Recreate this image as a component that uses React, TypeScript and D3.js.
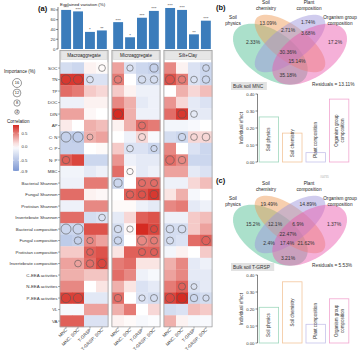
import React from 'react';
import * as d3 from 'd3';

// ---------- data ----------
const fractions = ['Macroaggregate', 'Microaggregate', 'Silt+Clay'];
const responses = ['MNC', 'MNC: SOC', 'T-GRSP', 'T-GRSP: SOC'];
const factors = ['SOC', 'TN', 'TP', 'DOC', 'DIN', 'AP', 'C: N', 'C: P', 'N: P', 'MBC',
  'Bacterial Shannon', 'Fungal Shannon', 'Protistan Shannon', 'Invertebrate Shannon',
  'Bacterial composition', 'Fungal composition', 'Protistan composition', 'Invertebrate composition',
  'C-EEA activities', 'N-EEA activities', 'P-EEA activities', 'VL', 'VA'];

const explained = [[80, 77, 35, 38], [55, 24, 64, 78], [84, 80, 30, 58]];
const signif = [['***', '***', '*', '**'], ['***', '*', '***', '***'], ['***', '***', '**', '***']];

const macroCorr = [
  [-0.3, -0.35, 0.05, 0.02], [0.75, 0.75, -0.25, -0.25], [0.55, 0.5, 0.2, 0.15], [-0.12, -0.12, 0.05, 0.05],
  [0.35, 0.35, 0.03, 0], [0.08, 0, 0.3, 0.25], [-0.4, -0.45, 0.3, 0.35], [-0.4, -0.4, 0, 0.02],
  [0.6, 0.7, -0.35, -0.35], [-0.1, -0.1, -0.18, -0.12], [-0.12, -0.12, 0.5, 0.5], [0.55, 0.55, 0.05, 0.03],
  [-0.12, -0.12, 0.45, 0.45], [0.55, 0.55, -0.3, -0.25], [-0.35, -0.35, 0.65, 0.65], [-0.45, -0.4, 0.45, 0.35],
  [0.2, 0.2, 0.6, 0.65], [0.35, 0.35, 0.55, 0.7], [0.3, 0.3, 0.22, 0.22], [0.45, 0.45, 0, 0.1],
  [0.72, 0.72, -0.2, -0.2], [-0.06, -0.06, 0.35, 0.35], [0.6, 0.6, -0.25, -0.25]];
const microCorr = [
  [0.35, -0.25, -0.35, -0.4], [0.5, 0, -0.3, -0.3], [0.2, 0.05, -0.12, -0.12], [0.45, 0.3, -0.18, -0.12],
  [0.8, 0.3, -0.12, -0.12], [0.05, 0.3, 0.55, 0.5], [0, -0.12, 0.15, -0.05], [0.2, -0.25, -0.25, -0.35],
  [0.4, -0.12, -0.18, -0.18], [0.55, 0.02, -0.18, -0.12], [-0.35, 0, 0.55, 0.55], [0, 0.6, 0.65, 0.75],
  [0.02, 0.02, -0.12, -0.18], [-0.18, 0.15, 0.6, 0.65], [-0.3, 0.03, 0.8, 0.7], [-0.35, 0, 0.45, 0.5],
  [0.1, 0.6, 0.6, 0.6], [0.5, 0.55, 0.1, 0.1], [0.55, 0.45, -0.12, -0.06], [0.3, 0.1, -0.25, -0.18],
  [0.55, 0, -0.25, -0.3], [0.3, 0.5, 0, 0.15], [0.05, 0.02, -0.06, -0.03]];
const siltCorr = [
  [0.45, 0.05, -0.25, -0.35], [0.65, 0.5, -0.25, -0.35], [0, 0.3, 0.15, 0.25], [0.4, 0.15, -0.18, -0.25],
  [0.55, 0.75, -0.18, -0.18], [-0.08, -0.08, -0.05, 0], [-0.3, -0.35, 0.15, 0.15], [0.45, 0, -0.25, -0.35],
  [0.55, 0.45, -0.35, -0.35], [0.35, 0.35, -0.18, -0.25], [-0.12, -0.12, 0.15, 0.25], [0.1, 0.3, -0.06, 0],
  [0.45, 0.5, -0.18, -0.12], [-0.12, -0.12, 0.2, 0.25], [-0.3, -0.3, 0.2, 0.35], [-0.3, -0.25, 0.55, 0.6],
  [-0.08, 0.05, 0, 0.2], [0.3, 0.45, -0.18, -0.12], [0.35, 0.45, -0.18, -0.18], [0.5, 0.6, -0.25, -0.18],
  [0.7, 0.8, -0.35, -0.3], [-0.3, -0.25, 0.25, 0.2], [0.3, 0.05, -0.06, -0.05]];

const macroImp: [string, string, number][] = [
  ['SOC', 'T-GRSP: SOC', 9], ['TN', 'MNC', 17], ['TN', 'MNC: SOC', 17], ['TN', 'T-GRSP', 9],
  ['C: N', 'MNC', 20], ['C: N', 'MNC: SOC', 20], ['C: N', 'T-GRSP', 7], ['N: P', 'MNC', 11],
  ['Invertebrate Shannon', 'T-GRSP: SOC', 9], ['Bacterial composition', 'MNC', 20], ['Bacterial composition', 'MNC: SOC', 20],
  ['Fungal composition', 'MNC: SOC', 11], ['Fungal composition', 'T-GRSP', 8], ['Protistan composition', 'T-GRSP', 9],
  ['Invertebrate composition', 'MNC: SOC', 9], ['Invertebrate composition', 'T-GRSP', 11], ['Invertebrate composition', 'T-GRSP: SOC', 14],
  ['P-EEA activities', 'MNC', 17], ['P-EEA activities', 'MNC: SOC', 17]];
const microImp: [string, string, number][] = [
  ['SOC', 'MNC: SOC', 8], ['SOC', 'T-GRSP: SOC', 13], ['TN', 'MNC', 11], ['TN', 'T-GRSP', 11], ['TN', 'T-GRSP: SOC', 11],
  ['DIN', 'MNC', 16], ['AP', 'T-GRSP', 10], ['C: N', 'T-GRSP', 10], ['C: P', 'MNC: SOC', 9], ['C: P', 'T-GRSP: SOC', 8],
  ['MBC', 'MNC: SOC', 8], ['Bacterial Shannon', 'MNC', 13], ['Bacterial Shannon', 'T-GRSP', 10], ['Bacterial Shannon', 'T-GRSP: SOC', 10],
  ['Fungal Shannon', 'MNC: SOC', 11], ['Fungal Shannon', 'T-GRSP', 11], ['Fungal Shannon', 'T-GRSP: SOC', 13],
  ['Bacterial composition', 'MNC', 11], ['Bacterial composition', 'MNC: SOC', 8], ['Bacterial composition', 'T-GRSP: SOC', 10],
  ['Fungal composition', 'MNC', 11], ['Fungal composition', 'T-GRSP', 16], ['Fungal composition', 'T-GRSP: SOC', 10],
  ['Protistan composition', 'T-GRSP', 10], ['Protistan composition', 'T-GRSP: SOC', 10],
  ['P-EEA activities', 'MNC', 11], ['P-EEA activities', 'T-GRSP', 8], ['P-EEA activities', 'T-GRSP: SOC', 10]];
const siltImp: [string, string, number][] = [
  ['SOC', 'T-GRSP: SOC', 9], ['TN', 'MNC', 16], ['TN', 'MNC: SOC', 11], ['TN', 'T-GRSP', 9], ['TN', 'T-GRSP: SOC', 11],
  ['DIN', 'MNC: SOC', 13], ['DIN', 'T-GRSP', 9], ['C: N', 'MNC: SOC', 11], ['C: N', 'T-GRSP', 9], ['C: N', 'T-GRSP: SOC', 12],
  ['N: P', 'MNC', 14], ['N: P', 'MNC: SOC', 11], ['Bacterial composition', 'MNC', 12], ['Bacterial composition', 'MNC: SOC', 12],
  ['Fungal composition', 'MNC', 10], ['Fungal composition', 'T-GRSP: SOC', 14],
  ['N-EEA activities', 'MNC: SOC', 10], ['N-EEA activities', 'T-GRSP', 7],
  ['P-EEA activities', 'MNC', 16], ['P-EEA activities', 'MNC: SOC', 20], ['P-EEA activities', 'T-GRSP', 11], ['P-EEA activities', 'T-GRSP: SOC', 8]];

const importanceTicks = [16, 12, 8, 4];
const corrTicks = [0.5, 0.0, -0.5, -0.9];

const effectGroups = ['Soil physics', 'Soil chemistry', 'Plant composition', 'Organism group composition'];
const mncEffect = [0.265, 0.17, 0.055, 0.37];
const grspEffect = [0.21, 0.36, 0.11, 0.26];
const mncVenn = ['2.33%', '13.09%', '1.74%', '17.2%', '2.71%', '3.68%', '30.36%', '15.14%', '35.18%'];
const grspVenn = ['15.2%', '19.49%', '14.89%', '1.37%', '12.1%', '6.9%', '22.47%', '2.4%', '17.4%', '21.62%', '3.21%'];
const mncResidual = '13.11%';
const grspResidual = '5.53%';

// ---------- layout ----------
const FONT = 'Liberation Sans, Arial, sans-serif';
const mncAnchors = [[-37, -9], [-22, -28], [18, -29], [45, -9], [-2, -21], [18, -18], [-2, 1], [7, 10], [-2, 24]];
const grspAnchors = [[-37, -8], [-21, -28], [18, -28], [44, -8], [-15, -8], [8, -8], [-2, 2], [-21, 11], [-3, 11], [16, 11], [-2, 26]];
const setColors = ['#4fbf93', '#ee9a55', '#9d94dc', '#ea5aad'];
const barStroke = ['#9fd8bd', '#f3c69c', '#c6c2ea', '#f2a6d0'];
const vennShapes = [
  { cx: 0.35, cy: 0.47, a: 0.35, b: 0.2, th: 135 },
  { cx: 0.5, cy: 0.57, a: 0.35, b: 0.15, th: 135 },
  { cx: 0.5, cy: 0.57, a: 0.35, b: 0.15, th: 45 },
  { cx: 0.65, cy: 0.47, a: 0.35, b: 0.2, th: 45 }];
const setLabelPos = [[-57, -32], [-24, -47], [19, -47], [50, -32]];
const setLabelLines = [['Soil', 'physics'], ['Soil', 'chemistry'], ['Plant', 'composition'], ['Organism group', 'composition']];

const color = d3.scaleLinear<string>().domain([-0.9, 0, 0.8]).range(['#7d98d3', '#ffffff', '#d52b22']).clamp(true);
const rScale = d3.scaleSqrt().domain([0, 16]).range([0, 4.5]);

function Venn({ cy, labels, anchors, bulk, residual }: any) {
  const cx = 290;
  const sx = d3.scaleLinear().domain([0, 1]).range([cx - 65.5, cx + 65.5]);
  const sy = d3.scaleLinear().domain([0, 1]).range([cy + 53.5, cy - 53.5]);
  const line = d3.line<[number, number]>().x(d => sx(d[0])).y(d => sy(d[1])).curve(d3.curveLinearClosed);
  return (
    <g>
      {vennShapes.map((s, i) => {
        const th = (s.th * Math.PI) / 180;
        const pts = d3.range(72).map(k => {
          const t = (k / 72) * 2 * Math.PI;
          return [s.cx + s.a * Math.cos(t) * Math.cos(th) - s.b * Math.sin(t) * Math.sin(th),
            s.cy + s.a * Math.cos(t) * Math.sin(th) + s.b * Math.sin(t) * Math.cos(th)] as [number, number];
        });
        return <path key={i} d={line(pts) || ''} fill={setColors[i]} fillOpacity={0.48} stroke="none" />;
      })}
      {setLabelLines.map((ls, i) => (
        <text key={i} x={cx + setLabelPos[i][0]} y={cy + setLabelPos[i][1]} fontSize={4.7} textAnchor="middle" fill="#222">
          {ls.map((l, j) => <tspan key={j} x={cx + setLabelPos[i][0]} dy={j === 0 ? 0 : 6}>{l}</tspan>)}
        </text>
      ))}
      {labels.map((l: string, i: number) => (
        <text key={i} x={cx + anchors[i][0]} y={cy + anchors[i][1] + 1.8} fontSize={5} textAnchor="middle" fill="#333">{l}</text>
      ))}
      <rect x={231} y={cy + 31} width={bulk.length * 2.45 + 4} height={8} fill="#e2e2e2" />
      <text x={233} y={cy + 37} fontSize={4.8} fill="#333">{bulk}</text>
      <text x={312} y={cy + 35} fontSize={4.8} fill="#333">{`Residuals = ${residual}`}</text>
    </g>
  );
}

function EffectBars({ y0, values }: { y0: number; values: number[] }) {
  const x = d3.scaleBand().domain(effectGroups).range([258, 350]).paddingInner(0.17).paddingOuter(0.05);
  const y = d3.scaleLinear().domain([0, 0.4]).range([y0, y0 - 68]);
  const fs = 4.5;
  return (
    <g>
      <line x1={257.5} x2={257.5} y1={y(0)} y2={y(0.4)} stroke="#333" strokeWidth={0.6} />
      {y.ticks(4).map(t => (
        <g key={t}>
          <line x1={255.5} x2={257.5} y1={y(t)} y2={y(t)} stroke="#333" strokeWidth={0.6} />
          <text x={254.5} y={y(t) + 1.5} fontSize={4.3} textAnchor="end" fill="#333">{t.toFixed(2)}</text>
        </g>
      ))}
      <text transform={`translate(242.5,${y(0.2)}) rotate(-90)`} fontSize={4.6} textAnchor="middle" fill="#333">Individual effect</text>
      {effectGroups.map((g, i) => {
        const bx = x(g)!, bw = x.bandwidth();
        const lines = i === 3 ? ['Organism group', 'composition'] : [g];
        const len = d3.max(lines, l => l.length)! * fs * 0.5;
        const mid = (y(values[i]) + y(0)) / 2;
        const c = Math.min(mid, y(0) - len / 2 - 3);
        return (
          <g key={g}>
            <rect x={bx} y={y(values[i])} width={bw} height={y(0) - y(values[i])} fill="white" stroke={barStroke[i]} strokeWidth={0.8} />
            {lines.map((l, j) => (
              <text key={j} transform={`translate(${bx + bw / 2 + (lines.length === 2 ? (j - 0.5) * 5.6 : 0) + 1.6},${c}) rotate(-90)`}
                fontSize={fs} textAnchor="middle" fill="#333">{l}</text>
            ))}
          </g>
        );
      })}
    </g>
  );
}

export default function App() {
  const panelW = 48, gap = 4, heatLeft = 60;
  const heatTop = 62.3, rowH = 11.5;
  const heatBottom = heatTop + rowH * factors.length;
  const panelX = (i: number) => heatLeft + i * (panelW + gap);
  const rowY = d3.scaleBand().domain(factors).range([heatTop, heatBottom]);
  const colX = d3.scaleBand().domain(responses).range([0, panelW]);
  const barX = d3.scaleBand().domain(responses).range([0, panelW]).paddingInner(0.17).paddingOuter(0.1);
  const barY = d3.scaleLinear().domain([0, 86]).range([49, 7]);
  const legY = d3.scaleLinear().domain([-0.9, 0.8]).range([171, 125]);
  const corrs = [macroCorr, microCorr, siltCorr];
  const imps = [macroImp, microImp, siltImp];
  const gradStops = d3.range(0, 1.0001, 0.1).map(t => ({ t, c: color(legY.invert(125 + t * 46)) }));

  return (
    <svg width={359} height={354} style={{ position: 'absolute', left: 0, top: 0, background: 'white' }} fontFamily={FONT}>
      <defs>
        <linearGradient id="corrGrad" x1="0" y1="0" x2="0" y2="1">
          {gradStops.map(s => <stop key={s.t} offset={s.t} stopColor={s.c} />)}
        </linearGradient>
      </defs>
      {/* (a) */}
      <text x={38} y={11} fontSize={7.5} fontWeight="bold" fill="#111">(a)</text>
      <text x={60} y={5.5} fontSize={4.4} fill="#222">Explained variation (%)</text>
      <line x1={58} x2={58} y1={barY(0)} y2={barY(86)} stroke="#333" strokeWidth={0.6} />
      {[0, 20, 40, 60, 80].map(t => (
        <g key={t}>
          <line x1={56} x2={58} y1={barY(t)} y2={barY(t)} stroke="#333" strokeWidth={0.6} />
          <text x={55.3} y={barY(t) + 1.5} fontSize={4.3} textAnchor="end" fill="#333">{t}</text>
        </g>
      ))}
      {fractions.map((f, p) => (
        <g key={f} transform={`translate(${panelX(p)},0)`}>
          {responses.map((r, j) => (
            <g key={r}>
              <rect x={barX(r)} y={barY(explained[p][j])} width={barX.bandwidth()} height={barY(0) - barY(explained[p][j])} fill="#3b7cbb" />
              <text x={barX(r)! + barX.bandwidth() / 2} y={barY(explained[p][j]) - 0.6} fontSize={4.4} textAnchor="middle" fill="#333">{signif[p][j]}</text>
            </g>
          ))}
          <rect x={0} y={50.5} width={panelW} height={heatBottom - 50.5} fill="none" stroke="#a6a6a6" strokeWidth={0.7} />
          <rect x={1} y={51.5} width={panelW - 2} height={8} fill="#e6e6e6" stroke="#c9c9c9" strokeWidth={0.4} />
          <text x={panelW / 2} y={57.2} fontSize={4.6} textAnchor="middle" fill="#222">{f}</text>
          {factors.map((fac, i) => responses.map((r, j) => (
            <rect key={fac + r} x={colX(r)} y={rowY(fac)} width={colX.bandwidth() + 0.3} height={rowY.bandwidth() + 0.3} fill={color(corrs[p][i][j])} />
          )))}
          {imps[p].map(([fac, r, v]) => (
            <circle key={fac + r} cx={colX(r)! + colX.bandwidth() / 2} cy={rowY(fac)! + rowY.bandwidth() / 2} r={rScale(v)}
              fill="none" stroke="#555" strokeWidth={0.6} />
          ))}
          <rect x={0} y={50.5} width={panelW} height={heatBottom - 50.5} fill="none" stroke="#a6a6a6" strokeWidth={0.7} />
          {responses.map(r => {
            const cx = colX(r)! + colX.bandwidth() / 2;
            return (
              <g key={r}>
                <line x1={cx} x2={cx} y1={heatBottom} y2={heatBottom + 1.8} stroke="#555" strokeWidth={0.5} />
                <text transform={`translate(${cx + 1.5},${heatBottom + 3.5}) rotate(-45)`} fontSize={4.5} textAnchor="end" fill="#333">{r}</text>
              </g>
            );
          })}
        </g>
      ))}
      {factors.map(fac => (
        <g key={fac}>
          <line x1={58} x2={60} y1={rowY(fac)! + rowY.bandwidth() / 2} y2={rowY(fac)! + rowY.bandwidth() / 2} stroke="#555" strokeWidth={0.5} />
          <text x={57.5} y={rowY(fac)! + rowY.bandwidth() / 2 + 1.5} fontSize={4.4} textAnchor="end" fill="#333">{fac}</text>
        </g>
      ))}
      {/* legends */}
      <text x={4} y={73} fontSize={4.6} fill="#222">Importance (%)</text>
      {importanceTicks.map((v, i) => {
        const cy = [83, 93, 103, 112][i];
        return (
          <g key={v}>
            <circle cx={17} cy={cy} r={rScale(v)} fill="none" stroke="#555" strokeWidth={0.6} />
            <text x={17} y={cy + 1.4} fontSize={3.9} textAnchor="middle" fill="#222">{v}</text>
          </g>
        );
      })}
      <text x={7} y={123} fontSize={4.6} fill="#222">Correlation</text>
      <rect x={13} y={125} width={6} height={46} fill="url(#corrGrad)" />
      {corrTicks.map(t => (
        <g key={t}>
          <line x1={13} x2={14.3} y1={legY(t)} y2={legY(t)} stroke="white" strokeWidth={0.5} />
          <line x1={17.7} x2={19} y1={legY(t)} y2={legY(t)} stroke="white" strokeWidth={0.5} />
          <text x={27.5} y={legY(t) + 1.5} fontSize={4.3} textAnchor="end" fill="#333">{t.toFixed(1)}</text>
        </g>
      ))}
      {/* (b) */}
      <text x={216} y={10} fontSize={7.5} fontWeight="bold" fill="#111">(b)</text>
      <Venn cy={51} labels={mncVenn} anchors={mncAnchors} bulk="Bulk soil MNC" residual={mncResidual} />
      <EffectBars y0={162} values={mncEffect} />
      {/* (c) */}
      <text x={216} y={183} fontSize={7.5} fontWeight="bold" fill="#111">(c)</text>
      <text x={320} y={178} fontSize={2.6} fill="#aaa">#04735</text>
      <Venn cy={232} labels={grspVenn} anchors={grspAnchors} bulk="Bulk soil T-GRSP" residual={grspResidual} />
      <EffectBars y0={343} values={grspEffect} />
    </svg>
  );
}
